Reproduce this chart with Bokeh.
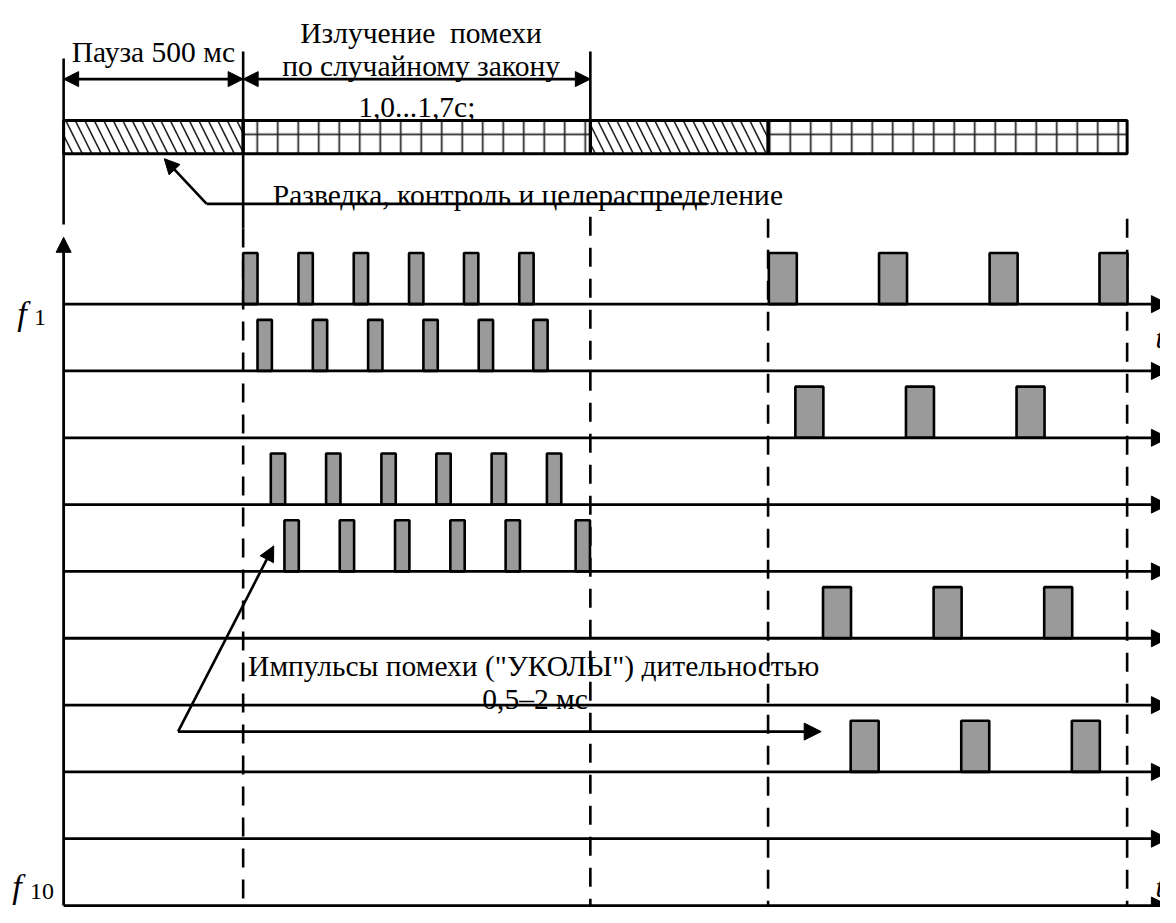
from bokeh.plotting import figure
from bokeh.models import Range1d, Arrow, NormalHead, Label, ColumnDataSource
from bokeh.embed import file_html
from bokeh.resources import INLINE

# ---------------- data ----------------
# cycle structure, ms: pause / jamming emission
segment_start = [0, 500, 1467, 1962]
segment_end = [500, 1467, 1962, 2962]
segment_kind = ["pause", "emit", "pause", "emit"]

# frequency channels f1..f10
channels = [1, 2, 3, 4, 5, 6, 7, 8, 9, 10]

# jamming pulses ("уколы"): channel, start (ms), duration (ms)
pulse_channel = ([1] * 6 + [2] * 6 + [4] * 6 + [5] * 6 +
                 [1] * 4 + [3] * 3 + [6] * 3 + [8] * 3)
pulse_start = [500, 654, 808, 962, 1115, 1269,
               540, 694, 848, 1002, 1156, 1308,
               577, 731, 885, 1038, 1192, 1346,
               615, 769, 923, 1077, 1231, 1426,
               1964, 2271, 2579, 2885,
               2038, 2346, 2654,
               2115, 2423, 2731,
               2192, 2500, 2808]
pulse_dur = [40] * 24 + [78] * 13

# ---------------- layout (reference pixels) ----------------
W_REF, H_REF = 1176, 923
T0_PX = 64.0
PX_PER_MS = 0.364
ROW0_PX = 309.0
ROW_PX = 68.0
PULSE_H = 0.765          # in rows
FONT = "Liberation Serif"
FS = "29.5px"

def ms(px):
    return (px - T0_PX) / PX_PER_MS

def row(py):
    return 1 + (py - ROW0_PX) / ROW_PX

p = figure(width=1160, height=907, output_backend="svg", toolbar_location=None,
           x_range=Range1d(ms(0), ms(W_REF)), y_range=Range1d(row(H_REF), row(0)),
           x_axis_type=None, y_axis_type=None, min_border=0)
p.extra_x_ranges = {"px": Range1d(0, W_REF)}
p.extra_y_ranges = {"px": Range1d(H_REF, 0)}
p.grid.visible = False
p.outline_line_color = None
p.background_fill_color = "white"
p.border_fill_color = "white"

# ---------------- top bar ----------------
BAR_TOP, BAR_BOT = 122, 156
pause_l = [s for s, k in zip(segment_start, segment_kind) if k == "pause"]
pause_r = [e for e, k in zip(segment_end, segment_kind) if k == "pause"]
emit_l = [s for s, k in zip(segment_start, segment_kind) if k == "emit"]
emit_r = [e for e, k in zip(segment_end, segment_kind) if k == "emit"]
p.quad(left=pause_l, right=pause_r, bottom=BAR_BOT, top=BAR_TOP, y_range_name="px",
       fill_color="white", line_color=None, hatch_pattern="\\", hatch_scale=19,
       hatch_weight=1.6, hatch_color="#222222")
p.quad(left=emit_l, right=emit_r, bottom=BAR_BOT, top=BAR_TOP, y_range_name="px",
       fill_color="white", line_color=None, hatch_pattern="+", hatch_scale=20.5,
       hatch_weight=1.7, hatch_color="#222222")
p.quad(left=segment_start, right=segment_end, bottom=BAR_BOT, top=BAR_TOP,
       y_range_name="px", fill_color=None, line_color="black", line_width=3)

# ---------------- vertical guides ----------------
p.segment(x0=[0, 500, 1467], x1=[0, 500, 1467], y0=[59, 52, 52], y1=[228, 232, 156],
          y_range_name="px", line_color="black", line_width=2.6)
p.segment(x0=[500, 1467, 1962, 2962], x1=[500, 1467, 1962, 2962],
          y0=[232, 220, 222, 222], y1=[H_REF, H_REF, H_REF, H_REF],
          y_range_name="px", line_color="black", line_width=2.6, line_dash="19 12")

# ---------------- pulses ----------------
src = ColumnDataSource(dict(
    left=pulse_start,
    right=[s + d for s, d in zip(pulse_start, pulse_dur)],
    bottom=pulse_channel,
    top=[c - PULSE_H for c in pulse_channel]))
p.quad(left="left", right="right", bottom="bottom", top="top", source=src,
       fill_color="#9a9a9a", line_color="black", line_width=2.6)

# ---------------- time axes for each channel ----------------
t_end = ms(1184)
axes_src = ColumnDataSource(dict(x0=[0] * len(channels), x1=[t_end] * len(channels),
                                 y=channels))
p.add_layout(Arrow(x_start="x0", x_end="x1", y_start="y", y_end="y", source=axes_src,
                   line_width=2.8, line_color="black",
                   end=NormalHead(size=17, fill_color="black", line_color="black")))

# frequency axis
p.add_layout(Arrow(x_start=0, x_end=0, y_start=H_REF - 2, y_end=241, y_range_name="px",
                   line_width=2.8, line_color="black",
                   end=NormalHead(size=15, fill_color="black", line_color="black")))

# ---------------- dimension arrows ----------------
for s, e in [(0, 500), (500, 1467)]:
    p.add_layout(Arrow(x_start=s, x_end=e, y_start=80, y_end=80, y_range_name="px",
                       line_width=2.6, line_color="black",
                       start=NormalHead(size=15, fill_color="black", line_color="black"),
                       end=NormalHead(size=15, fill_color="black", line_color="black")))

# leader to the bar
p.line(x=[716, 209], y=[207, 207], x_range_name="px", y_range_name="px",
       line_color="black", line_width=2.6)
p.add_layout(Arrow(x_start=209, y_start=207, x_end=166, y_end=161,
                   x_range_name="px", y_range_name="px", line_width=2.6,
                   end=NormalHead(size=15, fill_color="black", line_color="black")))

# leaders to pulses
p.add_layout(Arrow(x_start=180, y_start=744, x_end=277, y_end=555,
                   x_range_name="px", y_range_name="px", line_width=2.6,
                   end=NormalHead(size=15, fill_color="black", line_color="black")))
p.add_layout(Arrow(x_start=180, y_start=744, x_end=832, y_end=744,
                   x_range_name="px", y_range_name="px", line_width=2.6,
                   end=NormalHead(size=17, fill_color="black", line_color="black")))

# ---------------- texts ----------------
def lab(x, y, text, align="left", size=FS, style="normal", xr="default"):
    kw = dict(x=x, y=y, text=text, y_range_name="px", text_font=FONT,
              text_font_size=size, text_align=align, text_baseline="alphabetic",
              text_color="black", text_font_style=style)
    if xr != "default":
        kw["x_range_name"] = xr
    p.add_layout(Label(**kw))

pause_mid = (segment_start[0] + segment_end[0]) / 2
emit_mid = (segment_start[1] + segment_end[1]) / 2
lab(pause_mid, 52, "Пауза 500 мс", "center")
lab(emit_mid + 12, 33, "Излучение\u00a0 помехи", "center")
lab(emit_mid + 12, 67, "по случайному закону", "center")
lab(emit_mid, 108, "1,0...1,7с;", "center")
lab(276, 198, "Разведка, контроль и целераспределение", xr="px")
lab(251, 677, "Импульсы помехи (\"УКОЛЫ\") дительностью", xr="px")
lab(542, 711, "0,5\u20132 мс", "center", xr="px")

lab(17, 319, "f", size="34px", style="italic", xr="px")
lab(34, 323, "1", size="24px", xr="px")
lab(12, 902, "f", size="34px", style="italic", xr="px")
lab(30, 907, "10", size="24px", xr="px")
lab(1171, 343, "t", size="30px", style="italic", xr="px")
lab(1171, 902, "t", size="30px", style="italic", xr="px")

open("out.html", "w").write(file_html(p, INLINE))
